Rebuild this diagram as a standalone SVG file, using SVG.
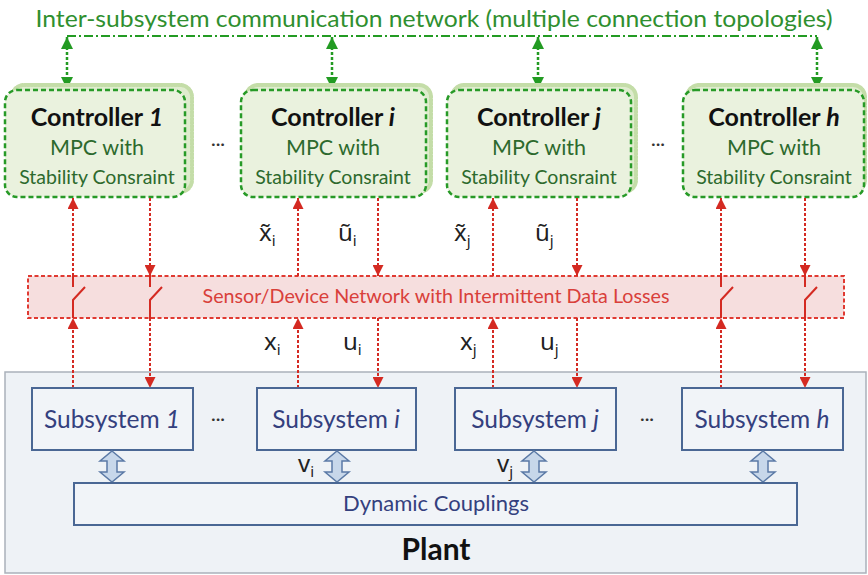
<svg xmlns="http://www.w3.org/2000/svg" width="868" height="575" viewBox="0 0 868 575">
<defs>
<marker id="ra" viewBox="0 0 10 10" refX="10" refY="5" markerWidth="11" markerHeight="11" markerUnits="userSpaceOnUse" orient="auto"><path d="M0,0 L10,5 L0,10 z" fill="#d42a22"/></marker>
<marker id="ga" viewBox="0 0 10 10" refX="10" refY="5" markerWidth="12" markerHeight="12" markerUnits="userSpaceOnUse" orient="auto"><path d="M0,0 L10,5 L0,10 z" fill="#239b23"/></marker>
<marker id="gs" viewBox="0 0 10 10" refX="0" refY="5" markerWidth="12" markerHeight="12" markerUnits="userSpaceOnUse" orient="auto"><path d="M10,0 L0,5 L10,10 z" fill="#239b23"/></marker>
</defs>
<style>
.shadow{fill:#dfecce;stroke:#c4dda8;stroke-width:4;stroke-dasharray:2 1.5;stroke-linecap:round}
.ctrl{fill:#eaf2de;stroke:#279a27;stroke-width:2.5;stroke-dasharray:5 3}
.ct{font-family:Lato,"Open Sans",sans-serif;font-weight:bold;font-size:25px;fill:#111;text-anchor:middle}
.mpc{font-family:Lato,"Open Sans",sans-serif;font-size:21.5px;fill:#2d6a2d;text-anchor:middle}
.stab{font-family:Lato,"Open Sans",sans-serif;font-size:19.5px;fill:#2d6a2d;text-anchor:middle}
.rl{stroke:#d42a22;stroke-width:2;stroke-dasharray:3 2;fill:none}
.sw{stroke:#d42a22;stroke-width:2;fill:none}
.gl{stroke:#239b23;stroke-width:2.5;stroke-dasharray:3 2;fill:none}
.sub{fill:#f1f4f8;stroke:#4a6794;stroke-width:2}
.st{font-family:Lato,"Open Sans",sans-serif;font-size:24.5px;fill:#34407e;text-anchor:middle}
.lab{font-family:"Noto Sans","DejaVu Sans",sans-serif;font-size:24px;fill:#222}
.dots{font-family:Lato,sans-serif;font-size:18px;fill:#333;text-anchor:middle}
.barrow{fill:#c7d7ea;stroke:#5b7aa6;stroke-width:1.5}
</style>
<rect x="5" y="372" width="861" height="201" fill="#eef2f6" stroke="#aab1ba" stroke-width="1.5"/>
<text x="434" y="27" font-family="Lato,'Open Sans',sans-serif" font-size="24" fill="#2f8f2f" text-anchor="middle" textLength="797" lengthAdjust="spacingAndGlyphs">Inter-subsystem communication network (multiple connection topologies)</text>
<g id="connectors">
<line x1="67" y1="36" x2="817" y2="36" stroke="#239b23" stroke-width="2" stroke-dasharray="9 3 2 3"/>
<line class="gl" x1="67" y1="37" x2="67" y2="89" marker-start="url(#gs)" marker-end="url(#ga)"/>
<line class="gl" x1="332" y1="37" x2="332" y2="89" marker-start="url(#gs)" marker-end="url(#ga)"/>
<line class="gl" x1="538" y1="37" x2="538" y2="89" marker-start="url(#gs)" marker-end="url(#ga)"/>
<line class="gl" x1="817" y1="37" x2="817" y2="89" marker-start="url(#gs)" marker-end="url(#ga)"/>
</g>
<g id="network">
<rect x="28" y="276" width="816" height="42" fill="#f6dede" stroke="#e03a32" stroke-width="2" stroke-dasharray="4 2.5"/>
<text x="436" y="303" font-family="Lato,'Open Sans',sans-serif" font-size="19" fill="#d9403a" text-anchor="middle" textLength="467" lengthAdjust="spacingAndGlyphs">Sensor/Device Network with Intermittent Data Losses</text>
</g>
<g id="controller-1">
<rect class="shadow" x="12" y="85" width="180" height="107" rx="12"/>
<rect class="ctrl" x="5" y="90" width="180" height="107" rx="12"/>
<text class="ct" x="97" y="126">Controller <tspan font-style="italic">1</tspan></text>
<text class="mpc" x="97" y="155">MPC with</text>
<text class="stab" x="97" y="184">Stability Consraint</text>
</g>
<g id="controller-i">
<rect class="shadow" x="246" y="85" width="185" height="107" rx="12"/>
<rect class="ctrl" x="241" y="90" width="185" height="107" rx="12"/>
<text class="ct" x="333" y="126">Controller <tspan font-style="italic">i</tspan></text>
<text class="mpc" x="333" y="155">MPC with</text>
<text class="stab" x="333" y="184">Stability Consraint</text>
</g>
<g id="controller-j">
<rect class="shadow" x="452" y="85" width="184" height="107" rx="12"/>
<rect class="ctrl" x="447" y="90" width="184" height="107" rx="12"/>
<text class="ct" x="539" y="126">Controller <tspan font-style="italic">j</tspan></text>
<text class="mpc" x="539" y="155">MPC with</text>
<text class="stab" x="539" y="184">Stability Consraint</text>
</g>
<g id="controller-h">
<rect class="shadow" x="687" y="85" width="178" height="107" rx="12"/>
<rect class="ctrl" x="683" y="90" width="181" height="107" rx="12"/>
<text class="ct" x="774" y="126">Controller <tspan font-style="italic">h</tspan></text>
<text class="mpc" x="774" y="155">MPC with</text>
<text class="stab" x="774" y="184">Stability Consraint</text>
</g>
<text class="dots" x="218" y="150">···</text>
<text class="dots" x="658" y="150">···</text>
<g id="signals">
<line class="rl" x1="73" y1="388" x2="73" y2="318" marker-end="url(#ra)"/>
<path class="sw" d="M73,318 V300 L85,287 M73,287 V276"/>
<line class="rl" x1="73" y1="276" x2="73" y2="198" marker-end="url(#ra)"/>
<line class="rl" x1="150" y1="198" x2="150" y2="276" marker-end="url(#ra)"/>
<path class="sw" d="M150,276 V287 M150,318 V300 L162,287"/>
<line class="rl" x1="150" y1="318" x2="150" y2="388" marker-end="url(#ra)"/>
<line class="rl" x1="298" y1="388" x2="298" y2="318" marker-end="url(#ra)"/>
<line class="rl" x1="298" y1="276" x2="298" y2="198" marker-end="url(#ra)"/>
<line class="rl" x1="378" y1="198" x2="378" y2="276" marker-end="url(#ra)"/>
<line class="rl" x1="378" y1="318" x2="378" y2="388" marker-end="url(#ra)"/>
<line class="rl" x1="493" y1="388" x2="493" y2="318" marker-end="url(#ra)"/>
<line class="rl" x1="493" y1="276" x2="493" y2="198" marker-end="url(#ra)"/>
<line class="rl" x1="577" y1="198" x2="577" y2="276" marker-end="url(#ra)"/>
<line class="rl" x1="577" y1="318" x2="577" y2="388" marker-end="url(#ra)"/>
<line class="rl" x1="721" y1="388" x2="721" y2="318" marker-end="url(#ra)"/>
<path class="sw" d="M721,318 V300 L733,287 M721,287 V276"/>
<line class="rl" x1="721" y1="276" x2="721" y2="198" marker-end="url(#ra)"/>
<line class="rl" x1="805" y1="198" x2="805" y2="276" marker-end="url(#ra)"/>
<path class="sw" d="M805,276 V287 M805,318 V300 L817,287"/>
<line class="rl" x1="805" y1="318" x2="805" y2="388" marker-end="url(#ra)"/>
</g>
<g id="labels">
<text class="lab" x="259" y="241">x̃<tspan font-size="15" dy="5">i</tspan></text>
<text class="lab" x="338" y="241">ũ<tspan font-size="15" dy="5">i</tspan></text>
<text class="lab" x="264" y="350">x<tspan font-size="15" dy="5">i</tspan></text>
<text class="lab" x="343" y="350">u<tspan font-size="15" dy="5">i</tspan></text>
<text class="lab" x="454" y="241">x̃<tspan font-size="15" dy="5">j</tspan></text>
<text class="lab" x="535" y="241">ũ<tspan font-size="15" dy="5">j</tspan></text>
<text class="lab" x="460" y="350">x<tspan font-size="15" dy="5">j</tspan></text>
<text class="lab" x="540" y="350">u<tspan font-size="15" dy="5">j</tspan></text>
<text class="lab" x="298" y="472">v<tspan font-size="15" dy="5">i</tspan></text>
<text class="lab" x="497" y="472">v<tspan font-size="15" dy="5">j</tspan></text>
</g>
<g id="subsystem-1">
<rect class="sub" x="32" y="388" width="161" height="62"/>
<text class="st" x="112" y="428">Subsystem <tspan font-style="italic">1</tspan></text>
</g>
<g id="subsystem-i">
<rect class="sub" x="257" y="388" width="159" height="62"/>
<text class="st" x="336" y="428">Subsystem <tspan font-style="italic">i</tspan></text>
</g>
<g id="subsystem-j">
<rect class="sub" x="455" y="388" width="161" height="62"/>
<text class="st" x="535" y="428">Subsystem <tspan font-style="italic">j</tspan></text>
</g>
<g id="subsystem-h">
<rect class="sub" x="682" y="388" width="161" height="62"/>
<text class="st" x="762" y="428">Subsystem <tspan font-style="italic">h</tspan></text>
</g>
<text class="dots" x="218" y="425">···</text>
<text class="dots" x="647" y="425">···</text>
<g id="couplings-arrows">
<path class="barrow" d="M112,451 L124,461 L117,461 L117,472 L124,472 L112,482 L100,472 L107,472 L107,461 L100,461 z"/>
<path class="barrow" d="M337,451 L349,461 L342,461 L342,472 L349,472 L337,482 L325,472 L332,472 L332,461 L325,461 z"/>
<path class="barrow" d="M534,451 L546,461 L539,461 L539,472 L546,472 L534,482 L522,472 L529,472 L529,461 L522,461 z"/>
<path class="barrow" d="M763,451 L775,461 L768,461 L768,472 L775,472 L763,482 L751,472 L758,472 L758,461 L751,461 z"/>
</g>
<g id="dynamic-couplings">
<rect class="sub" x="74" y="483" width="723" height="42"/>
<text x="436" y="511" font-family="Lato,'Open Sans',sans-serif" font-size="22" fill="#34407e" text-anchor="middle">Dynamic Couplings</text>
</g>
<text x="436" y="560" font-family="Lato,'Open Sans',sans-serif" font-size="30" font-weight="bold" fill="#111" text-anchor="middle">Plant</text>
</svg>
